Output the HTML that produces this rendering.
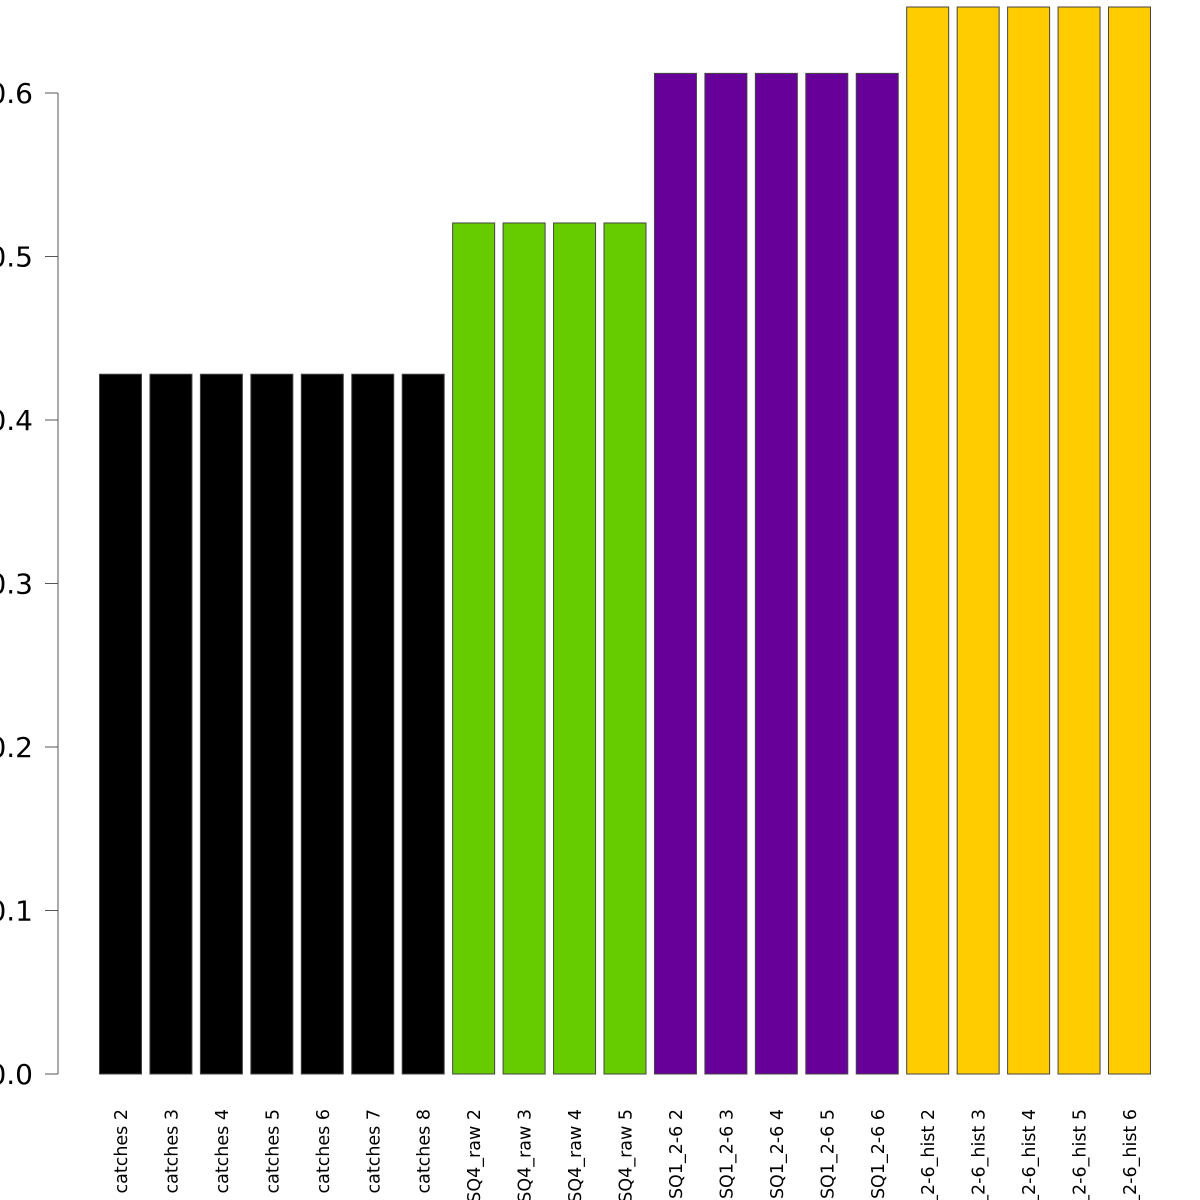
<!DOCTYPE html>
<html><head><meta charset="utf-8"><style>
html,body{margin:0;padding:0;background:#fff;}
svg{display:block;font-family:"DejaVu Sans","Liberation Sans",sans-serif;}
</style></head><body>
<svg id="chart" width="1200" height="1200" viewBox="0 0 1200 1200">
<g id="bars"></g>
<g id="yaxis"></g>
<g id="xlabels"></g>
</svg>
<script>
const categories = ["catches 2","catches 3","catches 4","catches 5","catches 6","catches 7","catches 8",
"SQ4_raw 2","SQ4_raw 3","SQ4_raw 4","SQ4_raw 5",
"SQ1_2-6 2","SQ1_2-6 3","SQ1_2-6 4","SQ1_2-6 5","SQ1_2-6 6",
"SQ1_2-6_hist 2","SQ1_2-6_hist 3","SQ1_2-6_hist 4","SQ1_2-6_hist 5","SQ1_2-6_hist 6"];
const values = [0.428,0.428,0.428,0.428,0.428,0.428,0.428,
0.5205,0.5205,0.5205,0.5205,
0.612,0.612,0.612,0.612,0.612,
0.6526,0.6526,0.6526,0.6526,0.6526];
const groups = [0,0,0,0,0,0,0,1,1,1,1,2,2,2,2,2,3,3,3,3,3];
const groupColors = ["#000000","#66cc00","#660099","#ffcc00"];
const yTicks = [0,0.1,0.2,0.3,0.4,0.5,0.6];
const yTickLabels = ["0.0","0.1","0.2","0.3","0.4","0.5","0.6"];

const NS="http://www.w3.org/2000/svg";
function y(v){return 1074 - v*1635;}
function x(i){return 99 + i*50.45;}
const BW=42;
const bars=document.getElementById('bars');
const xl=document.getElementById('xlabels');
categories.forEach((c,i)=>{
  const r=document.createElementNS(NS,'rect');
  r.setAttribute('x',x(i)+0.5);
  r.setAttribute('y',y(values[i]));
  r.setAttribute('width',BW);
  r.setAttribute('height',y(0)-y(values[i]));
  r.setAttribute('fill',groupColors[groups[i]]);
  r.setAttribute('stroke','#444');
  r.setAttribute('stroke-width','1');
  
  
  bars.appendChild(r);
  const t=document.createElementNS(NS,'text');
  const cx=x(i)+BW/2+7, cy=1109;
  t.setAttribute('x',cx);t.setAttribute('y',cy);
  t.setAttribute('transform','rotate(-90 '+cx+' '+cy+')');
  t.setAttribute('text-anchor','end');
  t.setAttribute('font-size','17.5');
  t.setAttribute('fill','#000');
  t.textContent=c;
  
  
  xl.appendChild(t);
});
const ya=document.getElementById('yaxis');
const ax=document.createElementNS(NS,'line');
ax.setAttribute('x1',58);ax.setAttribute('x2',58);
ax.setAttribute('y1',y(0));ax.setAttribute('y2',y(0.6));
ax.setAttribute('stroke','#555');ax.setAttribute('stroke-width','1');


ya.appendChild(ax);
yTicks.forEach((v,i)=>{
  const l=document.createElementNS(NS,'line');
  l.setAttribute('x1',45);l.setAttribute('x2',58);
  l.setAttribute('y1',y(v));l.setAttribute('y2',y(v));
  l.setAttribute('stroke','#555');l.setAttribute('stroke-width','1');
  
  
  ya.appendChild(l);
  const t=document.createElementNS(NS,'text');
  t.setAttribute('x',33);t.setAttribute('y',y(v)+10);
  t.setAttribute('text-anchor','end');
  t.setAttribute('font-size','28');
  t.textContent=yTickLabels[i];
  
  
  ya.appendChild(t);
});
</script>
</body></html>
